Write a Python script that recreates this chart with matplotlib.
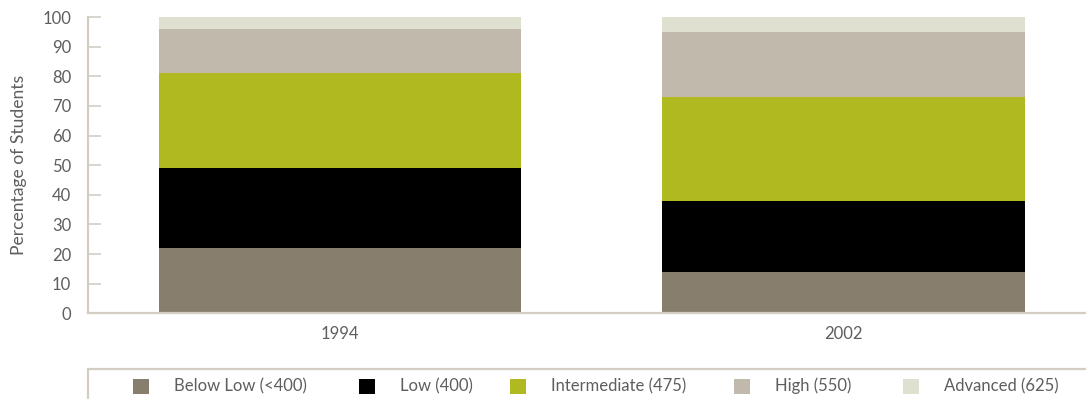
import numpy as np
import matplotlib.pyplot as plt
from matplotlib.patches import Rectangle

plt.rcParams['font.family'] = ['Lato', 'DejaVu Sans']

# Percentage of students reaching each benchmark
years = ['1994', '2002']
below_low = [22, 14]
low = [27, 24]
intermediate = [32, 35]
high = [15, 22]
advanced = [4, 5]

levels = ['Below Low (<400)', 'Low (400)', 'Intermediate (475)', 'High (550)', 'Advanced (625)']
colors = ['#877e6d', '#000000', '#b0b91f', '#c2b9ad', '#dfe0cf']
series = [below_low, low, intermediate, high, advanced]

grey_txt = '#5e5e5e'
spine_col = '#d3cdc4'
fs = 12

fig = plt.figure(figsize=(10.86, 3.99), dpi=100)
ax = fig.add_axes([88 / 1086, 85.7 / 399, 998 / 1086, 296.3 / 399])

x = np.arange(len(years))
bottom = np.zeros(len(years))
for vals, col, lab in zip(series, colors, levels):
    ax.bar(x, vals, width=0.72, bottom=bottom, color=col, label=lab, linewidth=0)
    bottom += np.array(vals)

ax.set_xlim(-0.5, 1.4812)
ax.set_ylim(0, 100)
ax.set_yticks(range(0, 101, 10))
ax.set_xticks(x)
ax.set_xticklabels(years)

for s in ['top', 'right']:
    ax.spines[s].set_visible(False)
for s in ['left', 'bottom']:
    ax.spines[s].set_color(spine_col)
    ax.spines[s].set_linewidth(1.6)

ax.tick_params(axis='y', direction='in', length=9, width=1.2, color=spine_col,
               labelcolor=grey_txt, labelsize=fs, pad=12)
ax.tick_params(axis='x', length=0, labelcolor=grey_txt, labelsize=fs, pad=9)
ax.set_ylabel('Percentage of Students', color=grey_txt, fontsize=12.6, labelpad=11)

# legend box along the bottom
fig.patches.append(Rectangle((88 / 1086, -0.05), 1.0, (399 - 369) / 399 + 0.05,
                             transform=fig.transFigure, facecolor='white',
                             edgecolor=spine_col, linewidth=1.6))
marker_x = [133, 359, 510, 734, 903]
for mx, col, lab in zip(marker_x, colors, levels):
    fig.patches.append(Rectangle((mx / 1086, (399 - 394) / 399), 16 / 1086, 15 / 399,
                                 transform=fig.transFigure, facecolor=col, linewidth=0))
    fig.text((mx + 41) / 1086, (399 - 386) / 399, lab, color=grey_txt,
             fontsize=fs, va='center', ha='left')

fig.savefig('out.png', dpi=100)
